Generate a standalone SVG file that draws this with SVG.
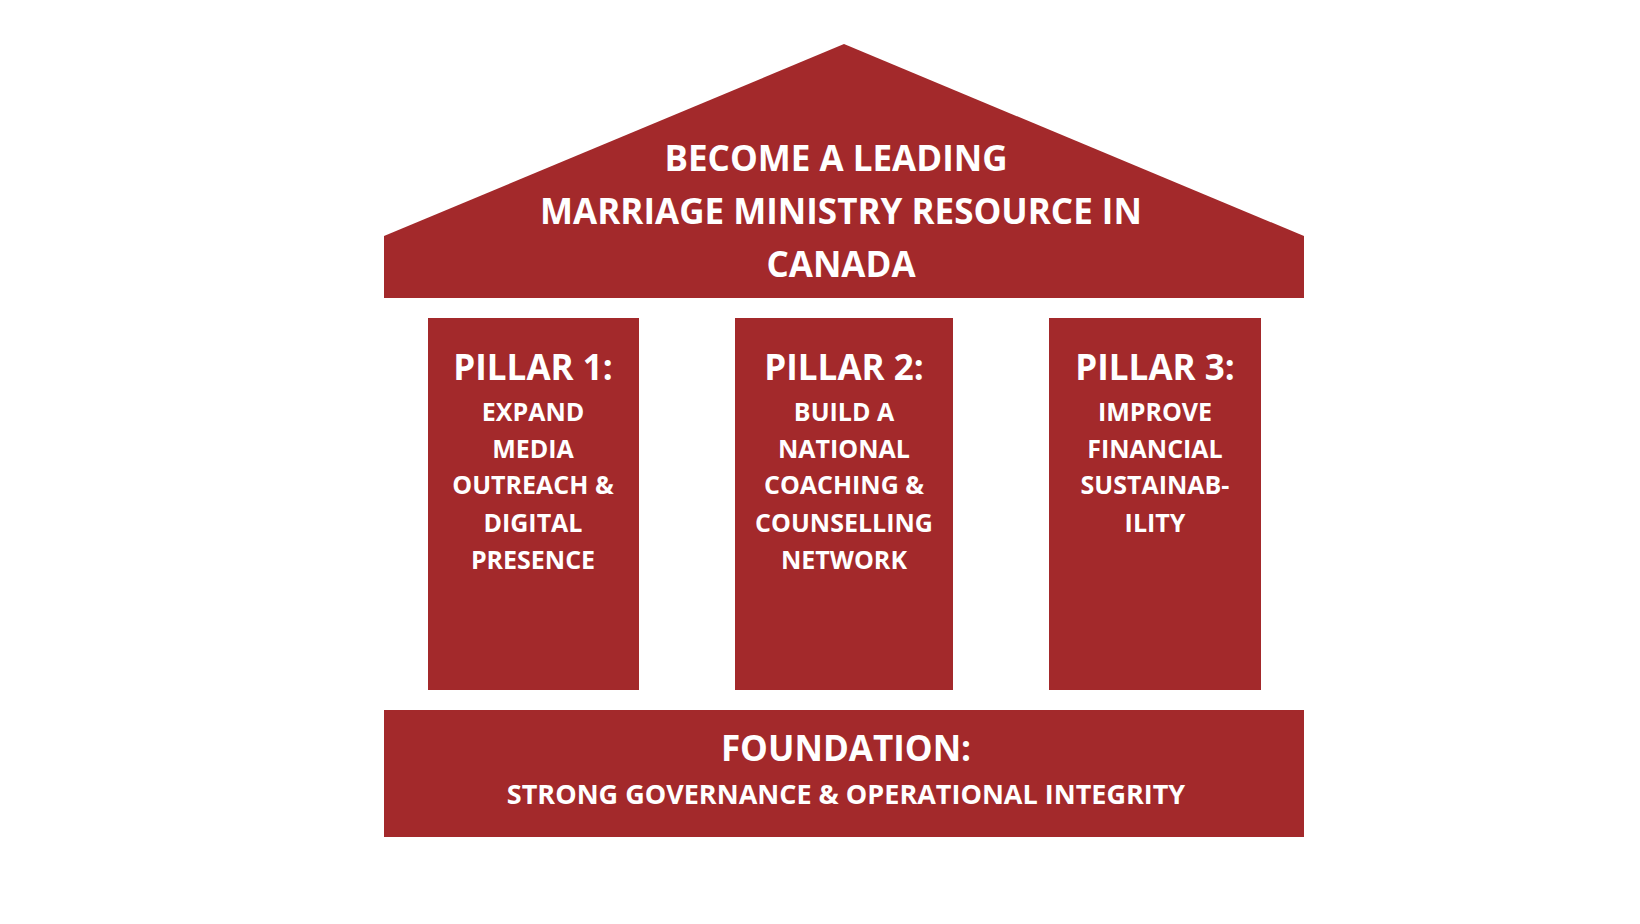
<svg xmlns="http://www.w3.org/2000/svg" width="1640" height="924" viewBox="0 0 1640 924">
<style>
.r{fill:#a3292b}
text{fill:#fff;font-family:"Open Sans","Liberation Sans",sans-serif;font-weight:bold;text-anchor:middle}
.h{font-size:35px}
.s{font-size:25px}
.f{font-size:27px}
</style>
<rect width="1640" height="924" fill="#fff"/>
<g id="roof">
<path class="r" d="M844,44 L1304,236 L1304,298 L384,298 L384,236 Z"/>
<text class="h" x="836" y="171">BECOME A LEADING</text>
<text class="h" x="841" y="224">MARRIAGE MINISTRY RESOURCE IN</text>
<text class="h" x="841" y="277">CANADA</text>
</g>
<g id="pillar1">
<rect class="r" x="428" y="318" width="211" height="372"/>
<text class="h" x="533" y="380">PILLAR 1:</text>
<text class="s" x="533" y="421">EXPAND</text>
<text class="s" x="533" y="458">MEDIA</text>
<text class="s" x="533" y="494">OUTREACH &amp;</text>
<text class="s" x="533" y="532">DIGITAL</text>
<text class="s" x="533" y="569">PRESENCE</text>
</g>
<g id="pillar2">
<rect class="r" x="735" y="318" width="218" height="372"/>
<text class="h" x="844" y="380">PILLAR 2:</text>
<text class="s" x="844" y="421">BUILD A</text>
<text class="s" x="844" y="458">NATIONAL</text>
<text class="s" x="844" y="494">COACHING &amp;</text>
<text class="s" x="844" y="532">COUNSELLING</text>
<text class="s" x="844" y="569">NETWORK</text>
</g>
<g id="pillar3">
<rect class="r" x="1049" y="318" width="212" height="372"/>
<text class="h" x="1155" y="380">PILLAR 3:</text>
<text class="s" x="1155" y="421">IMPROVE</text>
<text class="s" x="1155" y="458">FINANCIAL</text>
<text class="s" x="1155" y="494">SUSTAINAB-</text>
<text class="s" x="1155" y="532">ILITY</text>
</g>
<g id="foundation">
<rect class="r" x="384" y="710" width="920" height="127"/>
<text class="h" x="846" y="761">FOUNDATION:</text>
<text class="f" x="846" y="804">STRONG GOVERNANCE &amp; OPERATIONAL INTEGRITY</text>
</g>
<g id="connectors"/>
</svg>
